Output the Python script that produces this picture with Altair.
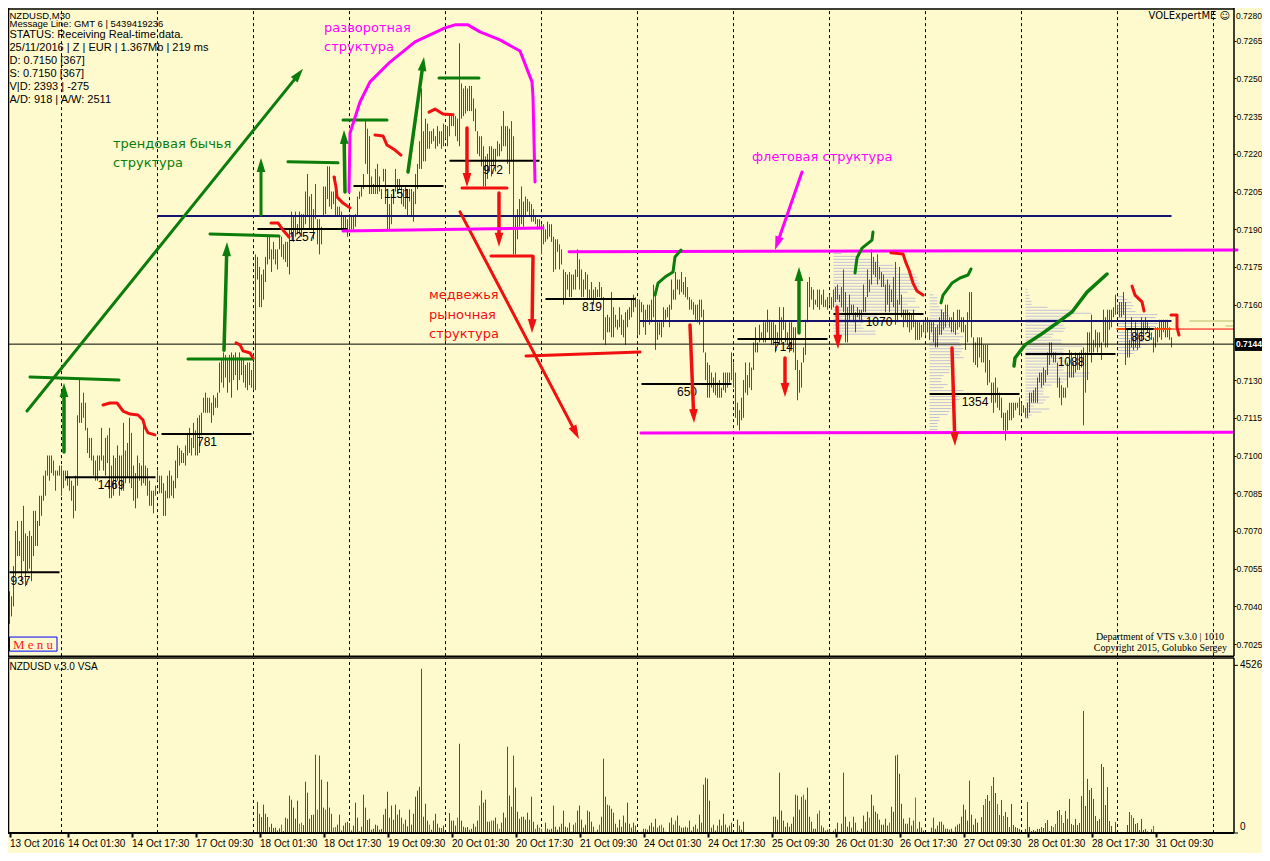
import json, math
import altair as alt
import pandas as pd

# ---------- price bars, in pips (7144 = 0.7144); each run has its first bar index ----------
start_a = 3
high_a = [7046,7044,7056,7070,7074,7066,7074,7080,7069,7068,7070,7068,7078,7078,7074,7084,7084,7092,7094,7100,7100,7100,7098,7094,7094,7096,
          7096,7094,7094,7094,7091,7090,7088,7092,7116,7130,7121,7125,7121,7111,7107,7107,7100,7098,7100,7100,7111,7100,7107,7108,7111,7096,7100,7099,7104,7100,7100,7113,7102,7105,7115,7109,7096,7093,7100,7097,7096,7114,7096,7095,7090,7086,7086,7088,7094,7092,7092,
          7089,7086,7092,7094,7092,7090,7098,7104,7103,7102,7101,7104,7109,7111,7107,7113,7110,7115,7116,7117,7123,7125,7123,7123,7121,7124,7123,7125,7137,7138,7141,7140,
          7138,7140,7141,7140,7141,7139,7141,7139,7138,7136,7137,7137,7134,7137,7180]
low_a = [7033,7036,7040,7052,7060,7060,7050,7058,7048,7054,7055,7050,7060,7064,7064,7072,7076,7082,7084,7092,7090,7093,7092,7086,7092,7092,
         7084,7087,7090,7088,7086,7082,7075,7078,7088,7113,7113,7115,7110,7101,7099,7098,7092,7090,7090,7094,7098,7094,7092,7097,7083,7083,7084,7087,7090,7084,7086,7086,7089,7091,7089,7087,7082,7079,7083,7090,7088,7089,7088,7084,7080,7080,7077,7084,7090,7085,7085,
         7076,7076,7083,7083,7084,7083,7087,7091,7096,7097,7097,7096,7100,7101,7100,7103,7100,7100,7101,7108,7117,7117,7117,7117,7113,7116,7119,7119,7125,7129,7127,7131,
         7125,7129,7123,7130,7132,7126,7130,7132,7129,7127,7126,7128,7127,7126,7126]
col_a = "rgggrgrgrgrggrggggggrgrrggrgrgrrrggggrrrrrgrgrgrgrrrgrgrrgrggrrggrgrgrgrgrrrrrgggrgggrgrrggrgrgggrgrrrgggggr" + "rgrgrrgrrrgrrrgg"

start_b = 127
high_b = [7179,7175,7172,7174,7179,7187,7187,7182,7185,7182,7182,7187,7187,7184,7185,7185,7190,7197,7195,7197,7192,7197,7196,7196,7205,7212,7203,7204,7198,7208,7194,7194,7191,7207,7207,7215,7215,7205,7205,7211,7199,7199,7197,7195,7195,7194,7196,7195,7195,7196,7203,7205,7207,7212,7233,7230,7227,7211,7208,7214,7216,7211,7206,7214,7214,7204,7200,7204,7206,7214,7210,7210,7207,7206,7207,7206,7206,7206,7205,7212,7216,7225,7246,7229,7234]
low_b = [7170,7159,7159,7162,7169,7176,7178,7173,7178,7176,7174,7182,7179,7178,7177,7175,7172,7187,7185,7187,7188,7188,7187,7190,7192,7195,7190,7190,7186,7194,7184,7180,7184,7195,7196,7202,7199,7198,7200,7195,7195,7195,7190,7190,7190,7187,7190,7190,7190,7191,7195,7202,7203,7206,7216,7212,7204,7204,7204,7204,7204,7205,7202,7209,7200,7190,7190,7192,7200,7205,7204,7206,7200,7199,7198,7195,7201,7195,7193,7200,7206,7214,7214,7217,7217]
col_b = "grrggggrgrrgrrrrgrgrgrgrggrrrrgrgggggrgrrgrrgrrrgggggggrgrgrrggrggrrgrgrrrgrrggrrrg"

start_c = 212
high_c = [7232,7229,7229,7230,7227,7231,7229,7229,7232,7231,7231,7236,7235,7236,7235,7234,7264,7248,7246,7247,7246,7247,7247,7242,7238,7229,7227,7227,7223,7219,7220,7223,7223,7222,7222,7225,7224,7231,7237,7231,7231,7230,7233,7227,7195,7198,7202,7207,7201,7203,7202,7201,7200,7198,7195,7194,7194,7192]
low_c = [7222,7222,7224,7225,7222,7223,7224,7222,7223,7226,7223,7227,7231,7231,7227,7225,7223,7234,7235,7236,7237,7237,7237,7233,7229,7220,7219,7215,7207,7207,7210,7213,7211,7215,7213,7219,7219,7221,7223,7223,7216,7212,7217,7180,7180,7186,7191,7192,7191,7195,7197,7195,7193,7193,7192,7190,7190,7180]
col_c = "grgrrgrrgrgrrrrrgrgggrrrrrrrgrgggrgrgrrgrgrrgggrgrrrrrrrr"

start_d = 270
high_d = [7192,7190,7193,7192,7192,7187,7186,7186,7184,7182,7174,7173,7172,7173,7172,7172,7174,7182,7178,7174,7170,7173,7172,7166,7169,7166,7167,7166,7169,7167,7163,7155,7156,7155,7165,7159,7156,7154,7159,7156,7154,7157,7158,7159,7162,7164,7163,7162]
low_d = [7184,7185,7186,7187,7185,7173,7174,7181,7174,7176,7160,7162,7166,7163,7163,7166,7166,7171,7166,7163,7163,7166,7162,7162,7162,7160,7162,7163,7163,7162,7146,7144,7149,7149,7147,7147,7151,7150,7151,7148,7147,7144,7151,7154,7155,7157,7159,7148]
col_d = "rggrgrgrgrgrgrggrgrrggrrgrrgrrrrgrrrrggrrggggrgr"

start_e = 318
high_e = [7162,7161,7160,7158,7160,7160,7162,7168,7164,7153,7153,7153,7159,7158,7159,7160,7170,7166,7173,7170,7170,7173,7169,7171,7167,7163,7162,7161,7160,7160,7162,7162,7158,7141,7137,7136,7133,7131,7133,7129,7130,7127,7133,7133,7133,7133,7141,7137,7133,7121,7118,7123,7130,7137,7132,7137,7135,7145,7151,7145,7152,7149,7153,7153,7158,7154,7153,7153,7152,7149,7159,7155,7159,7153,7149,7153,7153,7151,7151,7138,7134,7137,7143,7154,7169,7171,7167,7166,7162,7166,7166,7164,7166,7162,7163,7164,7163]
low_e = [7148,7157,7151,7148,7154,7152,7153,7155,7142,7146,7148,7147,7151,7154,7155,7151,7158,7162,7162,7166,7164,7165,7164,7163,7162,7158,7158,7156,7154,7153,7152,7155,7141,7130,7123,7123,7127,7125,7124,7123,7123,7123,7126,7125,7127,7129,7130,7127,7115,7112,7110,7114,7115,7125,7124,7127,7126,7134,7141,7141,7145,7146,7145,7145,7149,7146,7144,7144,7141,7145,7144,7145,7150,7145,7144,7141,7143,7141,7134,7122,7125,7127,7137,7140,7153,7159,7162,7158,7160,7159,7158,7160,7159,7159,7158,7160,7158]
col_e = "rgrrgrgrrggrrggrggggrrrgrrrrgrrrrrgrrgrgrggrrgrgrrgggggrrrrggggrrrgrgrgrgrrgrrgrrgggggrrgrrrgrr"

start_f = 415
high_f = [7166,7167,7168,7164,7167,7174,7165,7159,7164,7160,7160,7157,7159,7158,7158,7168,7163,7174,7170,7182,7179,7177,7180,7175,7173,7172,7168,7170,7168,7166,7171,7177,7162,7175,7164,7158,7158,7158,7157,7156,7158,7154,7153,7153,7152,7154,7153,7155,7154,7153,7153,7151,7152,7155,7158,7157,7160,7160,7155,7155,7157,7153,7158,7158,7155,7155,7152,7157,7165,7165,7147,7145,7147,7147,7147,7144,7144,7144,7138,7129,7129,7131,7127,7125,7123,7117,7117,7118,7121,7121,7121,7121,7121,7123]
low_f = [7159,7161,7162,7161,7159,7157,7145,7145,7154,7156,7153,7149,7155,7154,7153,7157,7157,7163,7165,7168,7172,7171,7168,7170,7167,7167,7157,7160,7157,7161,7159,7152,7153,7160,7155,7151,7153,7151,7149,7150,7151,7146,7146,7146,7147,7149,7148,7149,7146,7149,7145,7143,7143,7148,7148,7150,7151,7153,7151,7149,7149,7148,7150,7151,7149,7149,7142,7145,7154,7147,7137,7136,7135,7139,7137,7137,7133,7128,7129,7121,7117,7121,7119,7118,7115,7110,7106,7110,7114,7114,7115,7118,7119,7119]
col_f = "rgrgrrggggrgrrrgggrgrgrrgrrrrgrgrgrrrrrgrrgrgrrggrrggggrgrrggrrgggrrrgrgrrrrrrrrrrrrggggggrr"

start_g = 508
high_g = [7123,7121,7120,7119,7121,7125,7125,7126,7127,7131,7133,7133,7135,7134,7141,7145,7145,7141,7141,7137,7131,7128,7127,7127,7137,7142,7141,7137,7141,7140,7141,7142,7143,7141,7149,7149,7156,7146,7150,7149,7149,7145,7158,7155,7158,7158,7158,7159,7164,7160,7161,7161,7165,7161,7150,7146,7155,7147,7153,7150,7147,7155,7153,7155,7153,7151,7149,7147,7151,7151,7154,7154,7154,7154,7154,7151,7147]
low_g = [7116,7117,7117,7115,7115,7117,7121,7121,7121,7121,7129,7127,7128,7129,7132,7136,7139,7137,7137,7127,7123,7120,7123,7123,7127,7131,7131,7131,7133,7134,7134,7135,7112,7125,7130,7141,7137,7141,7143,7141,7143,7138,7145,7143,7143,7150,7151,7155,7156,7157,7155,7155,7156,7136,7139,7139,7143,7142,7143,7142,7143,7146,7146,7150,7149,7147,7146,7141,7143,7145,7147,7146,7149,7147,7147,7146,7143]
col_g = "rrgrggggrggggrggrgrrrrrgrgrgrgrgrrggrrrrrrggrrrggggggrrgrggrgrgrggrrggrrrgg"

# ---------- volume, each run has its first bar index ----------
vstart_a = 127
vol_a = [840,520,430,765,520,430,160,250,135,145,70,125,225,55,415,385,1010,900,685,385,875,250,280,215,1385,1090,385,485,495,2115,630,2090,1440,685,630,1385,685,520,145,160,225,495,70,200,280,305,270,70,200,820,415,45,170,1035,685,350,385,90,115,225,200,90,110,495,655,1115,415,740,360,765,495,630,415,250,360,180,630,225,520,980,1145,1250,4435,440,790,335,225,90,335,520,250,145]
vcol_a = "grrgggrgrrggmrrrgrgrgmmgggrrrrmrgrmgrrmmgrgrgrgrrggggggggrgggrrgrgrgggrrrmrgrrggggrggrmrgrgr"
vstart_b = 219
vol_b = [135,200,0,0,540,335,335,200,415,2410,335,170,145,160,90,115,250,170,335,740,1145,820,900,305,305,335,335,415,250,115,280,550,415,2330,1010,710,2090,1225,575,385,440,440,360,550,360,980,305,115,225,145,115,0,280,115,90,115,740,170,90,170,250,605,170,145,280,35,225,280,605,740,360,145,225,605,575,305,170,35,90,225,440,2005,980,765,740,655,550,250,145,360,170,470,280,820,250,145,280,200,0,0,35,115,115,90,200,280,170,385,145,200,225,145,35,25,280,415,225,335,470,200,145,145,170,145,335,65,170,225,115,495,280,1305,1495,1465,875,145,225,65,200,360]
vcol_b = "rgxxgrrrmgrrgggrrrrmrrgrgmrgmmgrrrgrrgggrggrrrrmrmmxggrrrggrrggrrggmgrgrgrggrggmrrgrgrrggggrgggggrxxgrrrgrrrgrmggrgggmrgggrrrgrrrgrrrrggrgrr"
vstart_c = 359
vol_c = [200,520,225,145,200,280,0,0,360,200,90,305]
vcol_c = "ggrgggxxrggg"
vstart_d = 385
vol_d = [440,440,360,1630,605,335,170,280,170,250,440,1035,1010,630,980,1035,900,1225,440,305,115,115,520,605,200,145,65,90,115,0,65,115,280,35,250,1630,440,170,305,145,440,280,65,35,115,470,305,575,415,1035,740,575,520,360,225,225,385,200,280,710,575,2090,2115,1600,790,385,250,250,415,200,335,955,115,305,145,65,0,0,0,145,415,115,200,305,305,225,115,115,90,115,35,170,225,250,440,765,630,335,1415,495,225,385,280]
vcol_d = "grgrgrrrgrgrrggmgggrrgrmrgrggxgrggrrrggrrrgrggggmgrgrgrgrgmrgrrgrrgrrgrmgxxxmrggrrggrrrrggrrrgggrgrgr"
vstart_e = 489
vol_e = [430,755,920,1025,865,1270,1510,1080,785,485,890,460,565,430,160,785,215,160,135,110,0,0,110,835,160,55,80,55,110,110,160,135,270,350,55,190,160,245,595,620,485,270,595,380,920,245,215,380,215,270,1000,3295,730,1460,1160,1215,920,460,325,380,1865,1780,755,1240,325,190,25,295,0,0,0,0,0,215,565,485,405,245,270,80,380,80,110,45,25,100,190]
vcol_e = "rrmgrmrrmrrmrgggrggrxxrggrgrgrrrggrgmmrrmrggrgrrgggrrgggrrgrgrrgggggxxxxxggmrgrggrgrrrm"

# ---------- market-profile rows: length in bars, top price and row step in pips ----------
prof_start = [415, 463, 511, 557]
prof_top = [7180.4, 7163.9, 7166.1, 7163.2]
prof_step = 1.19
prof_a = [4,12,19,23,30,32,32,41,42,42,43,43,43,37,34,41,41,37,43,41,35,22,15,15,14,15,21,21]
prof_b = [2,4,4,4,5,7,9,10,9,10,10,11,12,15,17,15,15,16,17,16,15,17,12,11,12,10,10,7,6,6,9,7,17,17,15,15,12,12,11,10,9,5,5,4,4,4,4]
prof_c = [1,1,2,2,3,3,11,24,33,23,18,14,19,20,19,14,13,18,18,29,19,19,19,19,23,19,19,19,32,31,21,19,13,9,9,9,12,10,9,4,12,8,3,2]
prof_d = [3,5,7,8,7,9,20,19,19,20,19,17,15,14,14,13,15,12,10,8]

# ---------- daily point-of-control segments ----------
poc_from = [3,31,79,127,175,223,271,319,367,415,463,511,561]
poc_to = [28,76,124,172,220,268,316,364,412,460,508,556,575]
poc_price = [7053.6,7091.4,7108.6,7190.1,7207.2,7217.2,7162.3,7128.4,7146.3,7156.3,7124.5,7140.4,7150.3]
poc_label = ["937","1469","781","1257","1151","972","819","650","714","1070","1354","1088","863"]
poc_lab_bar = [8.5,53.75,101.75,149.25,196.75,244.75,294.25,341.75,389.75,437.75,485.75,533.75,568.75]
poc_lab_price = [7050.1,7088.3,7105.4,7186.9,7204.0,7213.6,7159.1,7125.3,7143.2,7153.1,7121.3,7137.2,7147.1]

# ---------- axes ----------
price_ticks = [7265,7250,7235,7220,7205,7190,7175,7160,7130,7115,7100,7085,7070,7055,7040,7025]
date_ticks = ["13 Oct 2016","14 Oct 01:30","14 Oct 17:30","17 Oct 09:30","18 Oct 01:30","18 Oct 17:30","19 Oct 09:30",
              "20 Oct 01:30","20 Oct 17:30","21 Oct 09:30","24 Oct 01:30","24 Oct 17:30","25 Oct 09:30","26 Oct 01:30",
              "26 Oct 17:30","27 Oct 09:30","28 Oct 01:30","28 Oct 17:30","31 Oct 09:30"]
date_bars = [3,32,64,96,128,160,192,224,256,288,320,352,384,416,448,480,512,544,576]
grid_bars = [29,77,125,173,221,269,317,365,413,461,509,557,605]

# ---------- hand-drawn strokes (bar index, pips) ----------
GREEN, RED, MAGENTA, NAVY = "#0a7d0a", "#f01010", "#ff00ff", "#14146e"
arrows = [
    (GREEN,3,11.75,7117.7,149.75,7253.8),(GREEN,3.5,30.25,7101.4,30.25,7128.8),(GREEN,3.5,110.25,7141.9,111.75,7184.9),
    (GREEN,3,128.75,7195.7,128.75,7218.3),(GREEN,3.5,170.75,7204.8,170.25,7229.5),(GREEN,3.5,202.25,7212.8,210.25,7258.5),
    (GREEN,3.5,397.75,7148.7,397.75,7175.0),
    (RED,3.5,231.75,7230.3,231.75,7206.8),(RED,3.5,247.75,7204.4,247.75,7183.0),(RED,3.5,264.75,7179.0,264.25,7148.7),
    (RED,3,228.25,7196.9,287.75,7106.6),(RED,3.5,343.25,7151.9,345.25,7112.9),(RED,3.5,390.75,7138.8,390.75,7123.3),
    (RED,3.5,416.75,7159.1,417.25,7142.4),(RED,3.5,474.25,7142.8,475.75,7103.8),
    (MAGENTA,3,399.25,7212.8,385.75,7181.7),
]
strokes = [
    (RED,3,[(229.25,7206.4),(251.75,7206.4)]),(RED,3,[(243.75,7179.4),(264.75,7179.4)]),(RED,3,[(261.25,7139.6),(318.25,7141.2)]),
    (GREEN,3,[(13.25,7131.2),(57.75,7130.0)]),(GREEN,3,[(92.25,7138.4),(124.75,7138.4)]),(GREEN,3,[(103.25,7188.1),(137.75,7187.3)]),
    (GREEN,3,[(142.25,7216.8),(167.25,7216.4)]),(GREEN,3,[(169.75,7233.5),(191.75,7233.5)]),(GREEN,3,[(217.75,7250.2),(237.75,7250.2)]),
    (MAGENTA,3,[(172.75,7204.8),(173.25,7228.3),(178.25,7240.6),(183.25,7248.6),(193.25,7256.5),(205.75,7264.5),(220.75,7270.1),(225.75,7271.3),(232.25,7271.3),(238.25,7268.5),(248.25,7265.3),(258.25,7260.9),(264.25,7248.6),(264.75,7242.6),(265.75,7208.8)]),
    (MAGENTA,3,[(169.75,7189.3),(269.75,7190.5)]),(MAGENTA,3,[(282.75,7181.0),(616.75,7181.7)]),(MAGENTA,3,[(318.75,7109.0),(614.25,7109.3)]),
    (RED,3,[(49.75,7120.1),(53.25,7120.9),(56.75,7120.9),(59.75,7117.7),(63.25,7116.5),(67.25,7116.1),(69.75,7114.1),(70.75,7111.3),(72.25,7109.0),(75.75,7108.2)]),
    (RED,3,[(116.25,7144.8),(118.25,7144.0),(119.75,7141.6),(123.25,7140.8),(124.75,7138.8)]),
    (RED,3,[(133.75,7192.5),(137.25,7192.5),(139.75,7189.7),(142.75,7186.9)]),
    (RED,3,[(165.25,7210.8),(166.25,7206.8),(166.75,7202.8),(169.75,7200.4),(173.25,7198.5)]),
    (RED,3,[(185.75,7227.5),(189.75,7227.1),(191.75,7223.5),(195.75,7221.5),(198.75,7219.5)]),
    (RED,3,[(212.75,7236.6),(215.75,7237.8),(219.75,7235.8),(224.75,7235.5)]),
    (RED,3,[(443.75,7180.6),(449.75,7180.2),(451.25,7176.6),(452.75,7173.8),(454.75,7168.6),(456.75,7165.4),(459.75,7163.8)]),
    (RED,3,[(564.25,7167.4),(565.75,7163.8),(569.25,7161.1),(570.25,7157.5)]),
    (RED,3,[(583.75,7155.9),(586.75,7155.9),(586.75,7151.1),(587.75,7147.9)]),
    (GREEN,3,[(325.75,7163.8),(327.25,7168.6),(330.75,7171.0),(334.75,7173.0),(335.75,7179.0),(338.75,7181.7)]),
    (GREEN,3,[(425.75,7172.6),(426.75,7178.6),(429.25,7182.5),(434.25,7185.7),(434.75,7188.9)]),
    (GREEN,3,[(468.75,7160.7),(469.75,7163.8),(474.25,7168.6),(478.25,7170.6),(482.25,7171.8),(483.75,7174.2)]),
    (GREEN,3.5,[(505.25,7135.6),(505.75,7138.8),(510.75,7144.0),(518.25,7147.9),(526.75,7152.7),(534.25,7157.1),(541.75,7165.0),(551.75,7172.2)]),
]
# level lines: colour, width, from bar, to bar, pips
levels = [
    ("#000000",1,2.25,615.25,7144.3),
    (NAVY,2,76.75,584,7195.3),(NAVY,2,318.25,584,7153.5),
    ("#ff4500",2,556.5,584,7150.3),("#ff0000",1,584,615.25,7150.3),
    ("#bdb76b",1,593,615.25,7153.5),("#bdb76b",1,611,615.25,7151.5),
]
texts = [
    ("трендовая бычья",54.75,7223.9,GREEN,13,"DejaVu Sans","left"),("структура",54.75,7216.4,GREEN,13,"DejaVu Sans","left"),
    ("разворотная",160.25,7270.1,MAGENTA,13,"DejaVu Sans","left"),("структура",160.25,7262.5,MAGENTA,13,"DejaVu Sans","left"),
    ("флетовая структура",374.25,7218.7,MAGENTA,13,"DejaVu Sans","left"),
    ("медвежья",212.75,7163.8,RED,13,"DejaVu Sans","left"),("рыночная",212.75,7155.9,RED,13,"DejaVu Sans","left"),("структура",212.75,7148.3,RED,13,"DejaVu Sans","left"),
    ("NZDUSD,M30",3,7275.0,"#000000",9.5,"Liberation Sans","left"),("Message Line: GMT 6 | 5439419236",3,7271.5,"#000000",9.5,"Liberation Sans","left"),
    ("STATUS:  Receiving Real-time data.",3,7267.3,"#000000",11,"Liberation Sans","left"),
    ("25/11/2016 | Z | EUR | 1.367Mb | 219 ms",3,7262.1,"#000000",11,"Liberation Sans","left"),
    ("D: 0.7150  [367]",3,7256.9,"#000000",11,"Liberation Sans","left"),("S: 0.7150  [367]",3,7251.8,"#000000",11,"Liberation Sans","left"),
    ("V|D: 2393 | -275",3,7246.6,"#000000",11,"Liberation Sans","left"),("A/D: 918 | A/W: 2511",3,7241.4,"#000000",11,"Liberation Sans","left"),
    ("VOLExpertME ☺",613.25,7275.0,"#000000",10,"DejaVu Sans","right"),
    ("Department of VTS  v.3.0 | 1010",610.25,7027.8,"#000000",10,"Liberation Serif","right"),
    ("Copyright 2015, Golubko Sergey",611.75,7023.4,"#000000",10,"Liberation Serif","right"),
    ("M e n u",14.75,7024.6,"#ff2020",13,"Liberation Serif","center"),
    ("0.7280",616.25,7275.0,"#000000",8.5,"Liberation Sans","left"),
]

# ---------- tables built from the lists ----------
def pr(p):
    return p / 10000.0

COLORS = {"g": "#0a7d0a", "r": "#e81010", "m": "#f010f0"}
bar_rows = []
for s, hs, ls, cs in [(start_a,high_a,low_a,col_a),(start_b,high_b,low_b,col_b),(start_c,high_c,low_c,col_c),
                      (start_d,high_d,low_d,col_d),(start_e,high_e,low_e,col_e),(start_f,high_f,low_f,col_f),(start_g,high_g,low_g,col_g)]:
    for k, (h, l) in enumerate(zip(hs, ls)):
        c = cs[k] if k < len(cs) else "r"
        bar_rows.append({"bar": s + k, "hi": pr(h), "lo": pr(l), "c": COLORS.get(c, COLORS["r"])})
bars_df = pd.DataFrame(bar_rows)

vol_rows = []
for s, vs, cs in [(vstart_a,vol_a,vcol_a),(vstart_b,vol_b,vcol_b),(vstart_c,vol_c,vcol_c),(vstart_d,vol_d,vcol_d),(vstart_e,vol_e,vcol_e)]:
    for k, v in enumerate(vs):
        if v > 0:
            c = cs[k] if k < len(cs) else "g"
            vol_rows.append({"bar": s + k, "v": v, "z": 0, "c": COLORS.get(c, COLORS["g"])})
vol_df = pd.DataFrame(vol_rows)

prof_rows = []
for st, top, rows in zip(prof_start, prof_top, [prof_a, prof_b, prof_c, prof_d]):
    for k, n in enumerate(rows):
        prof_rows.append({"a": st, "b": st + n, "p": pr(top - k * prof_step)})
prof_df = pd.DataFrame(prof_rows)

poc_df = pd.DataFrame({"a": poc_from, "b": poc_to, "p": [pr(p) for p in poc_price]})
poc_txt = pd.DataFrame({"bar": poc_lab_bar, "p": [pr(p) for p in poc_lab_price], "t": poc_label})
level_df = pd.DataFrame([{"c": c, "w": w, "a": a, "b": b, "p": pr(p)} for c, w, a, b, p in levels])
text_df = pd.DataFrame([{"t": t, "bar": x, "p": pr(y), "c": c, "s": s, "f": f, "al": al} for t, x, y, c, s, f, al in texts])

PX_BAR, PX_PIP = 2.0, 2.514
line_rows, head_rows, gid = [], [], 0
for col, w, x0, y0, x1, y1 in arrows:
    dx, dy = (x1 - x0) * PX_BAR, (y1 - y0) * PX_PIP
    L = math.hypot(dx, dy)
    ux, uy = dx / L, dy / L
    line_rows += [{"g": gid, "k": 0, "bar": x0, "p": pr(y0), "c": col, "w": w},
                  {"g": gid, "k": 1, "bar": x1 - 8 * ux / PX_BAR, "p": pr(y1 - 8 * uy / PX_PIP), "c": col, "w": w}]
    head_rows.append({"bar": x1 - 7 * ux / PX_BAR, "p": pr(y1 - 7 * uy / PX_PIP), "c": col,
                      "ang": math.degrees(math.atan2(ux, uy)) % 360})
    gid += 1
for col, w, pts in strokes:
    for k, (x, y) in enumerate(pts):
        line_rows.append({"g": gid, "k": k, "bar": x, "p": pr(y), "c": col, "w": w})
    gid += 1
line_df = pd.DataFrame(line_rows)
head_df = pd.DataFrame(head_rows)

# ---------- scales and shared axes: price and volume share one plot area ----------
BG = "#FFFACD"
X_MIN, X_MAX = 2.25, 629.25
XS = alt.Scale(domain=[X_MIN, X_MAX], nice=False, zero=False)
YS = alt.Scale(domain=[0.69419, 0.72780], nice=False, zero=False)
VS = alt.Scale(domain=[-540, 22275], nice=False, zero=False)
PLOT_W, PLOT_H = 1254, 845
P_LOW, P_TOP, V_TOP = 0.70202, 0.72780, 4725

PRICE_AXIS = alt.Axis(orient="right", offset=-28, values=[pr(p) for p in price_ticks], format=".4f", title=None, grid=False,
                      domain=False, tickColor="#000000", tickSize=2, labelColor="#000000", labelFont="Liberation Sans",
                      labelFontSize=8.5, labelPadding=0, labelOverlap=False, labelFlush=False)
DATE_AXIS = alt.Axis(orient="bottom", offset=-20, values=date_bars,
                     labelExpr="%s[round(datum.value/32)]" % json.dumps(date_ticks), title=None, grid=False,
                     domain=False, tickColor="#000000", tickSize=4, tickWidth=2, labelColor="#000000", labelFont="Liberation Sans",
                     labelFontSize=10, labelAlign="left", labelPadding=1, labelOverlap=False, labelFlush=False)

xq = lambda f="bar": alt.X(f"{f}:Q", scale=XS, axis=DATE_AXIS)
yq = lambda f="p": alt.Y(f"{f}:Q", scale=YS, axis=PRICE_AXIS)
vq = lambda f="v": alt.Y(f"{f}:Q", scale=VS, axis=None)
cnone = alt.Color("c:N", scale=None, legend=None)

# ---------- price layers ----------
t_profile = alt.Chart(prof_df).mark_rule(color="#C2C2D6", strokeWidth=1).encode(x=xq("a"), x2="b:Q", y=yq())
t_grid = alt.Chart(pd.DataFrame({"bar": grid_bars, "y0": P_LOW, "y1": P_TOP})).mark_rule(
    color="#000000", strokeWidth=1, strokeDash=[3, 3]).encode(x=xq(), y=yq("y0"), y2="y1:Q")
t_levels = alt.Chart(level_df).mark_rule().encode(x=xq("a"), x2="b:Q", y=yq(), color=cnone,
                                                 strokeWidth=alt.StrokeWidth("w:Q", scale=None, legend=None))
t_bars = alt.Chart(bars_df).mark_rule(strokeWidth=1).encode(x=xq(), y=yq("lo"), y2="hi:Q", color=cnone)
t_poc = alt.Chart(poc_df).mark_rule(color="#000000", strokeWidth=2).encode(x=xq("a"), x2="b:Q", y=yq())
t_poc_txt = alt.Chart(poc_txt).mark_text(font="Liberation Sans", fontSize=12, color="#000000").encode(x=xq(), y=yq(), text="t:N")
t_lines = alt.Chart(line_df).mark_line(strokeCap="round", strokeJoin="round").encode(
    x=xq(), y=yq(), detail="g:N", order="k:Q", color=cnone,
    strokeWidth=alt.StrokeWidth("w:Q", scale=None, legend=None))
t_heads = alt.Chart(head_df).mark_point(filled=True, opacity=1, size=196, shape="M0,-1L0.62,1L-0.62,1Z").encode(
    x=xq(), y=yq(), color=cnone, angle=alt.Angle("ang:Q", scale=None))

menu_box = alt.Chart(pd.DataFrame({"a": [3.0], "b": [26.75], "p0": [pr(7022.2)], "p1": [pr(7027.8)]})).mark_rect(
    fill=BG, stroke="#0000ff", strokeWidth=1).encode(x=xq("a"), x2="b:Q", y=yq("p0"), y2="p1:Q")

def text_layer(al):
    d = text_df[text_df["al"] == al]
    out = []
    for (f, s), g in d.groupby(["f", "s"]):
        out.append(alt.Chart(g).mark_text(align=al, font=f, fontSize=float(s)).encode(x=xq(), y=yq(), text="t:N", color=cnone))
    return out

cur_box = alt.Chart(pd.DataFrame({"a": [615.75], "b": [X_MAX], "p0": [pr(7141.6)], "p1": [pr(7146.7)]})).mark_rect(
    color="#000000").encode(x=xq("a"), x2="b:Q", y=yq("p0"), y2="p1:Q")
cur_txt = alt.Chart(pd.DataFrame({"bar": [616.25], "p": [pr(7144.2)], "t": ["0.7144"]})).mark_text(
    align="left", font="Liberation Sans", fontSize=8.5, color="#ffffff", fontWeight="bold").encode(x=xq(), y=yq(), text="t:N")

frame_v = alt.Chart(pd.DataFrame({"bar": [615.25, 2.5], "y0": P_LOW, "y1": P_TOP})).mark_rule(color="#000000", strokeWidth=1.5).encode(x=xq(), y=yq("y0"), y2="y1:Q")
frame_h = alt.Chart(pd.DataFrame({"a": X_MIN, "b": 615.25, "p": [P_LOW, 0.72776]})).mark_rule(color="#000000", strokeWidth=1.5).encode(x=xq("a"), x2="b:Q", y=yq())

price_group = alt.layer(t_profile, t_grid, t_bars, t_levels, t_poc, t_poc_txt, t_lines, t_heads, menu_box,
                        *text_layer("left"), *text_layer("right"), *text_layer("center"),
                        cur_box, cur_txt, frame_v, frame_h)

# ---------- volume layers ----------
l_grid = alt.Chart(pd.DataFrame({"bar": grid_bars, "y0": 0, "y1": V_TOP})).mark_rule(
    color="#000000", strokeWidth=1, strokeDash=[3, 3]).encode(x=xq(), y=vq("y0"), y2="y1:Q")
l_bars = alt.Chart(vol_df).mark_rule(strokeWidth=1).encode(x=xq(), y=vq(), y2="z:Q", color=cnone)
l_base = alt.Chart(pd.DataFrame({"a": [X_MIN], "b": [615.25], "v": [0]})).mark_rule(color="#000000", strokeWidth=2).encode(x=xq("a"), x2="b:Q", y=vq())
l_top = alt.Chart(pd.DataFrame({"a": [X_MIN], "b": [615.25], "v": [V_TOP]})).mark_rule(color="#000000", strokeWidth=1.5).encode(x=xq("a"), x2="b:Q", y=vq())
l_side = alt.Chart(pd.DataFrame({"bar": [615.25, 2.5], "v0": 0, "v1": V_TOP})).mark_rule(color="#000000", strokeWidth=1.5).encode(x=xq(), y=vq("v0"), y2="v1:Q")
l_ticks = alt.Chart(pd.DataFrame({"a": [615.25, 615.25], "b": [617.25, 617.25], "v": [4526, 0]})).mark_rule(color="#000000", strokeWidth=1).encode(x=xq("a"), x2="b:Q", y=vq())
l_labels = alt.Chart(pd.DataFrame({"bar": [618.25, 618.25], "v": [4536, 162], "t": ["4526", "0"]})).mark_text(
    align="left", font="Liberation Sans", fontSize=10, color="#000000").encode(x=xq(), y=vq(), text="t:N")
l_name = alt.Chart(pd.DataFrame({"bar": [3], "v": [4482], "t": ["NZDUSD v.3.0 VSA"]})).mark_text(
    align="left", font="Liberation Sans", fontSize=10, color="#000000").encode(x=xq(), y=vq(), text="t:N")

volume_group = alt.layer(l_grid, l_bars, l_base, l_top, l_side, l_ticks, l_labels, l_name)

chart = alt.layer(volume_group, price_group).resolve_scale(y="independent").properties(
    width=PLOT_W, height=PLOT_H, padding=0, background=BG,
    autosize=alt.AutoSizeParams(type="none", contains="padding")).configure_view(stroke=None)
chart.save("out.html", embed_options={"renderer": "svg", "actions": False})
